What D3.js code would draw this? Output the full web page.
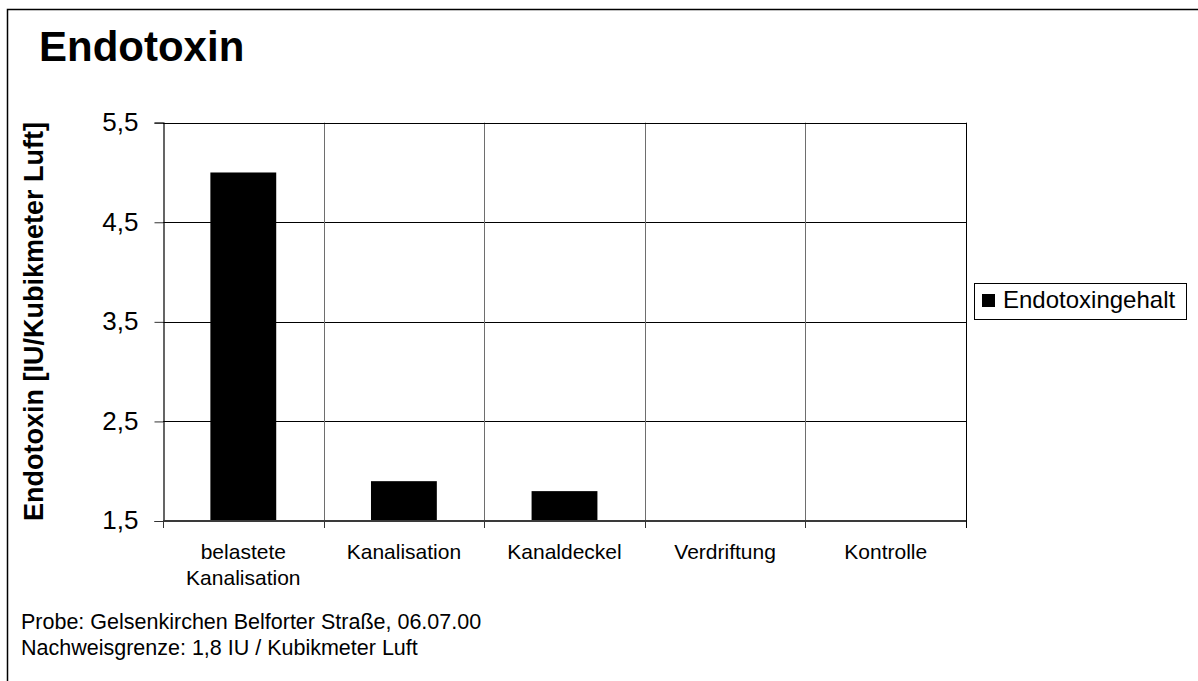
<!DOCTYPE html>
<html>
<head>
<meta charset="utf-8">
<script src="https://cdn.jsdelivr.net/npm/d3@7"></script>
<style>
  html, body { margin: 0; padding: 0; background: #fff; }
  svg { display: block; font-family: "Liberation Sans", Arial, sans-serif; }
</style>
</head>
<body>
<svg id="chart" width="1198" height="681"></svg>
<script>
// ---- data ----
const categories = [["belastete", "Kanalisation"], ["Kanalisation"], ["Kanaldeckel"], ["Verdriftung"], ["Kontrolle"]];
const categoryKeys = ["belastete Kanalisation", "Kanalisation", "Kanaldeckel", "Verdriftung", "Kontrolle"];
const endotoxinValues = [5.0, 1.9, 1.8, null, null];
const yTicks = [1.5, 2.5, 3.5, 4.5, 5.5];
const yTickLabels = ["1,5", "2,5", "3,5", "4,5", "5,5"];
const seriesName = "Endotoxingehalt";
const titleText = "Endotoxin";
const yAxisTitle = "Endotoxin [IU/Kubikmeter Luft]";
const footnotes = ["Probe: Gelsenkirchen Belforter Straße, 06.07.00", "Nachweisgrenze: 1,8 IU / Kubikmeter Luft"];

// ---- layout ----
const svg = d3.select("#chart");
const W = 1198, H = 681;
const plot = { left: 163, right: 966, top: 122.7, bottom: 521 };

svg.append("rect").attr("x", 0).attr("y", 0).attr("width", W).attr("height", H).attr("fill", "#fff");
// outer chart border
svg.append("rect").attr("x", 7.5).attr("y", 9.5).attr("width", 1220).attr("height", 720)
  .attr("fill", "none").attr("stroke", "#000").attr("stroke-width", 1.5);

const x = d3.scaleBand().domain(categoryKeys).range([plot.left, plot.right]).paddingInner(0).paddingOuter(0);
const y = d3.scaleLinear().domain([1.5, 5.5]).range([plot.bottom, plot.top]);

// title
svg.append("text").attr("x", 39).attr("y", 61).attr("font-size", 42).attr("font-weight", "bold")
  .attr("fill", "#000").text(titleText);

// horizontal gridlines
svg.append("g").selectAll("line").data(yTicks.filter(t => t > 1.5)).join("line")
  .attr("x1", plot.left).attr("x2", plot.right)
  .attr("y1", d => Math.round(y(d)) + 0.5).attr("y2", d => Math.round(y(d)) + 0.5)
  .attr("stroke", "#000").attr("stroke-width", 1);

// vertical gridlines at category boundaries
const bounds = categoryKeys.map(c => x(c)).concat([plot.right]);
svg.append("g").selectAll("line").data(bounds.slice(1, -1)).join("line")
  .attr("x1", d => Math.round(d) + 0.5).attr("x2", d => Math.round(d) + 0.5)
  .attr("y1", plot.top).attr("y2", plot.bottom)
  .attr("stroke", "#6e6e6e").attr("stroke-width", 1);

// right border
svg.append("line").attr("x1", Math.round(plot.right) + 0.5).attr("x2", Math.round(plot.right) + 0.5)
  .attr("y1", plot.top).attr("y2", plot.bottom + 7).attr("stroke", "#000").attr("stroke-width", 1);

// bars
const bw = x.bandwidth() * 0.41;
svg.append("g").selectAll("rect").data(categoryKeys.map((c, i) => ({ c, v: endotoxinValues[i] })).filter(d => d.v != null))
  .join("rect")
  .attr("x", d => x(d.c) + (x.bandwidth() - bw) / 2)
  .attr("width", bw)
  .attr("y", d => y(d.v))
  .attr("height", d => y(1.5) - y(d.v))
  .attr("fill", "#000");

// y axis
const yAxis = d3.axisLeft(y).tickValues(yTicks).tickFormat((d, i) => yTickLabels[i]).tickSize(9).tickPadding(16);
const gy = svg.append("g").attr("transform", `translate(${plot.left + 0.5},0)`).call(yAxis);
gy.select(".domain").attr("stroke", "#000").attr("stroke-width", 1.2);
gy.selectAll(".tick line").attr("stroke", "#333");
gy.selectAll(".tick text").attr("font-size", 26).attr("font-family", "'Liberation Sans', Arial, sans-serif")
  .attr("fill", "#000").attr("dy", "0.3em");

// top border (drawn after axis)
svg.append("line").attr("x1", plot.left).attr("x2", plot.right + 0.5)
  .attr("y1", Math.round(plot.top) + 0.5).attr("y2", Math.round(plot.top) + 0.5)
  .attr("stroke", "#000").attr("stroke-width", 1.2);

// x axis line and ticks at category boundaries
svg.append("line").attr("x1", plot.left).attr("x2", plot.right)
  .attr("y1", plot.bottom).attr("y2", plot.bottom).attr("stroke", "#3a3a3a").attr("stroke-width", 2);
svg.append("g").selectAll("line").data(bounds.slice(0, -1)).join("line")
  .attr("x1", d => Math.round(d) + 0.5).attr("x2", d => Math.round(d) + 0.5)
  .attr("y1", plot.bottom).attr("y2", plot.bottom + 7)
  .attr("stroke", "#333").attr("stroke-width", 1);

// x labels
const xl = svg.append("g").selectAll("text").data(categoryKeys.map((c, i) => ({ c, lines: categories[i] }))).join("text")
  .attr("text-anchor", "middle").attr("font-size", 21).attr("fill", "#000")
  .attr("transform", d => `translate(${x(d.c) + x.bandwidth() / 2},559)`);
xl.selectAll("tspan").data(d => d.lines).join("tspan")
  .attr("x", 0).attr("y", (d, i) => i * 26).text(d => d);

// y axis title
svg.append("text").attr("transform", `translate(43,${(125 + 518) / 2}) rotate(-90)`)
  .attr("text-anchor", "middle").attr("font-size", 27).attr("font-weight", "bold").attr("fill", "#000")
  .text(yAxisTitle);

// legend
const lg = svg.append("g");
lg.append("rect").attr("x", 974.5).attr("y", 283.5).attr("width", 212).attr("height", 36)
  .attr("fill", "#fff").attr("stroke", "#000").attr("stroke-width", 1);
lg.append("rect").attr("x", 982).attr("y", 294).attr("width", 13).attr("height", 13).attr("fill", "#000");
lg.append("text").attr("x", 1003).attr("y", 308).attr("font-size", 24).attr("fill", "#000").text(seriesName);

// footnotes
svg.append("g").selectAll("text").data(footnotes).join("text")
  .attr("x", 21).attr("y", (d, i) => 629 + i * 26).attr("font-size", 21.5).attr("fill", "#000").text(d => d);
</script>
</body>
</html>
